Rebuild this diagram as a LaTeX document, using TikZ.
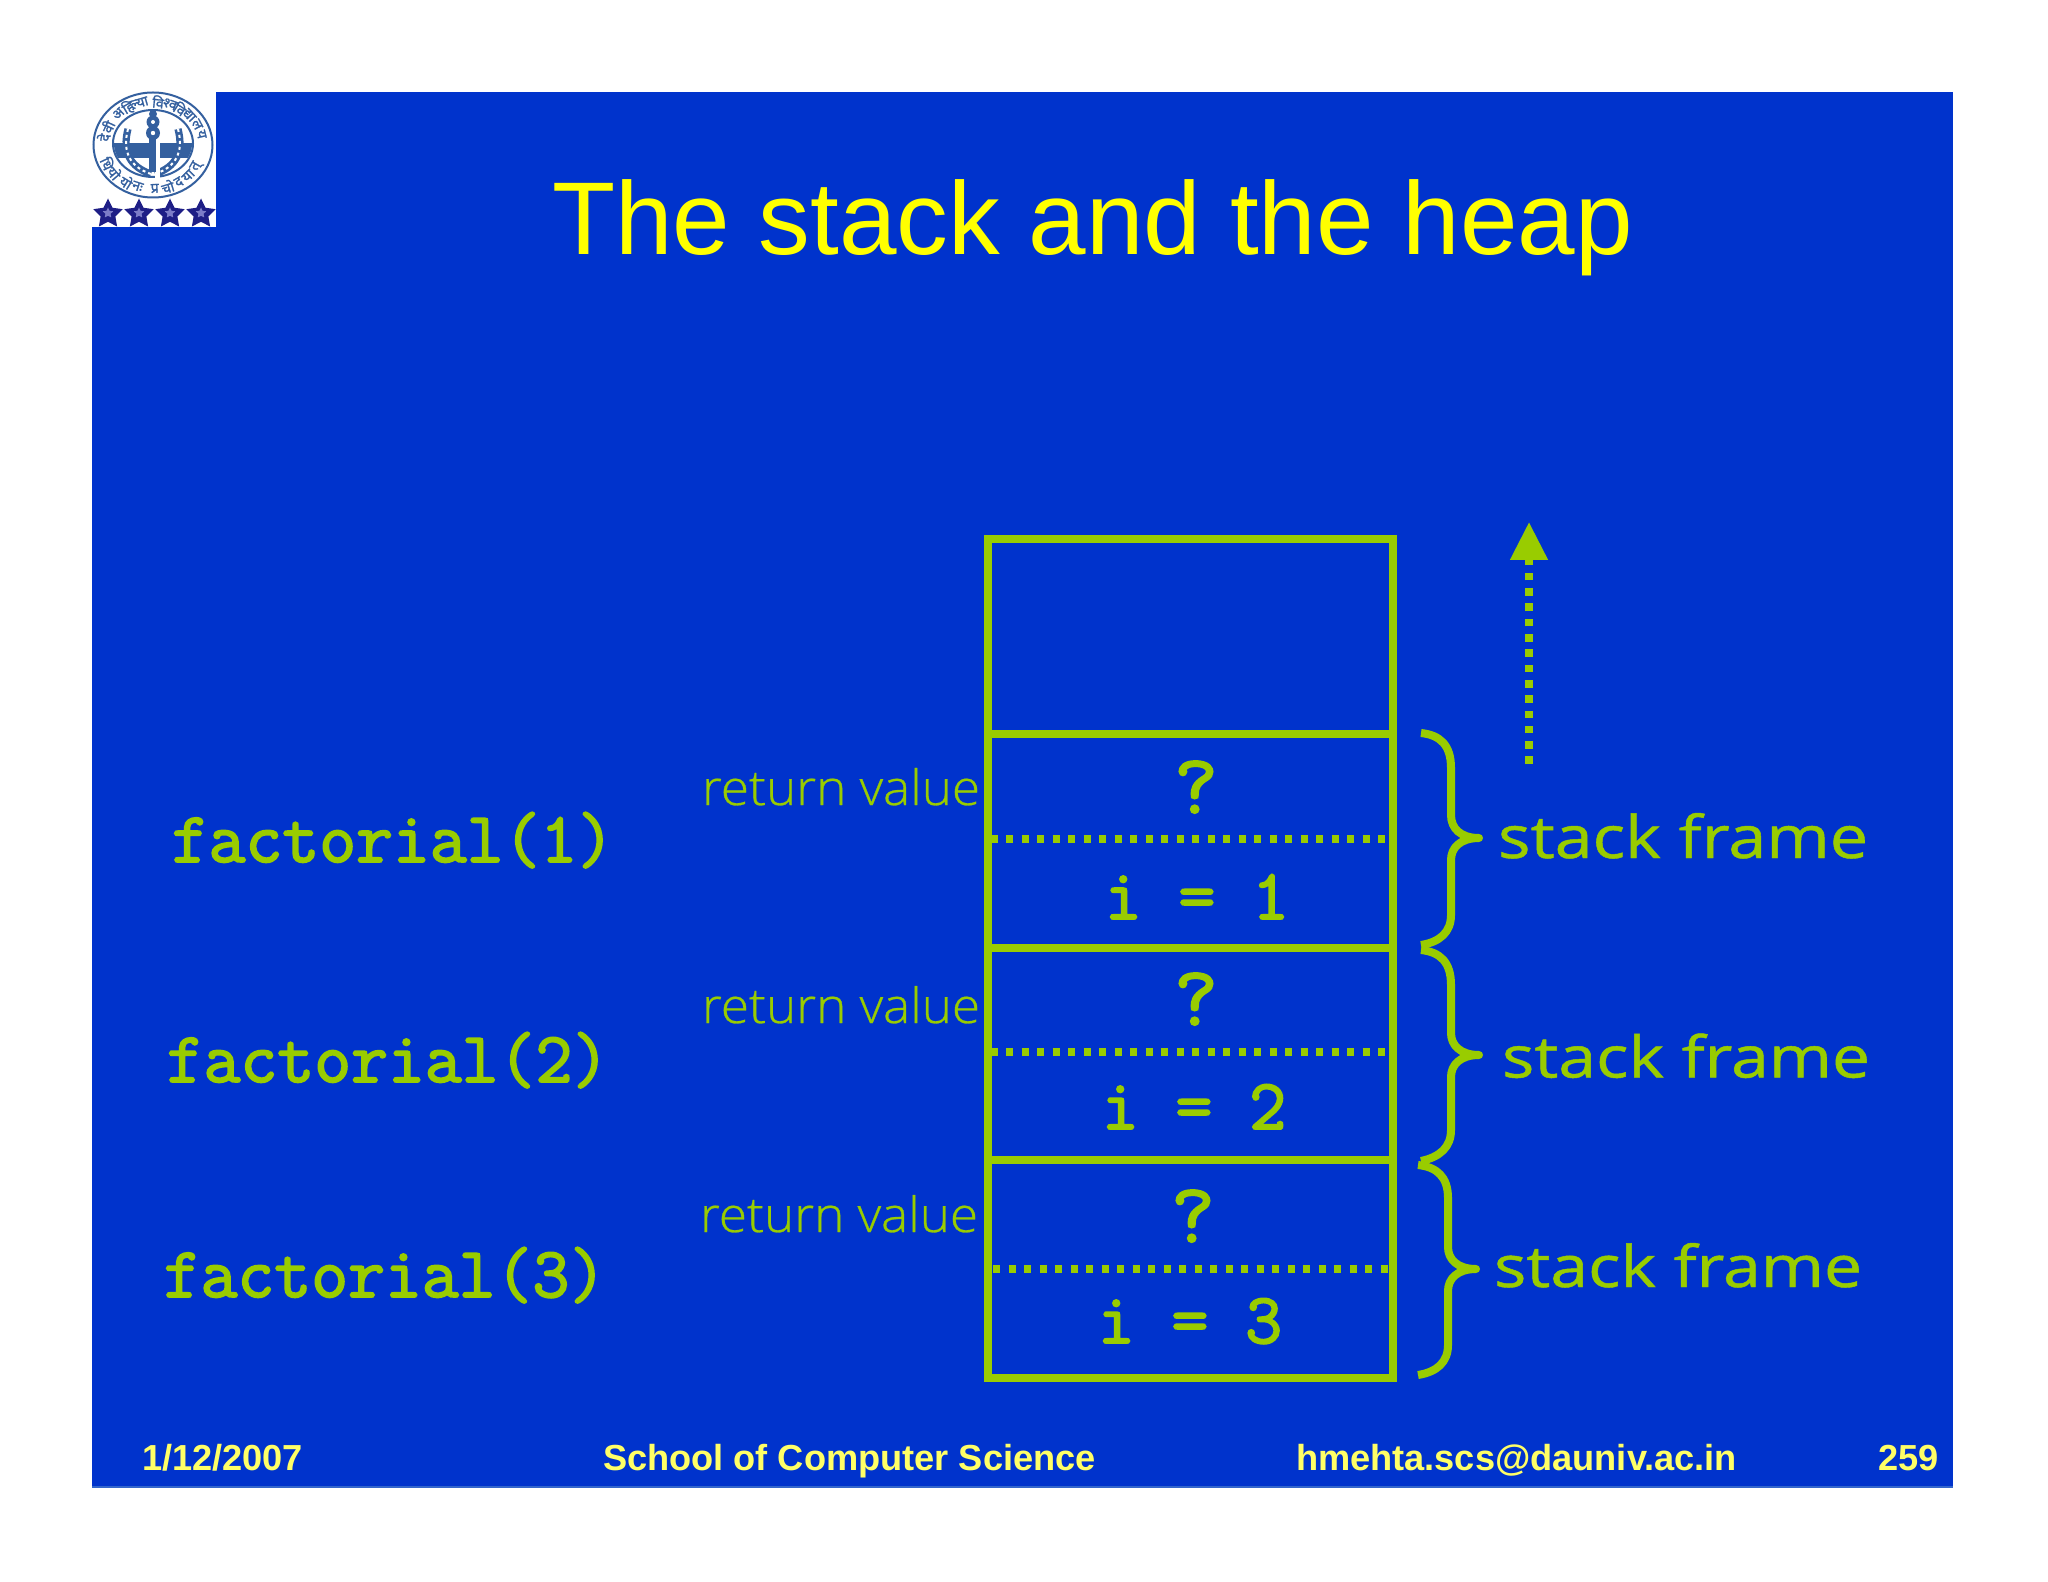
\documentclass[tikz,border=0pt]{standalone}
\usepackage{fontspec}
\usepackage{graphicx}
\usetikzlibrary{arrows.meta,shapes.geometric}
\setmainfont{Liberation Sans}
\newfontfamily\devf[Script=Devanagari,FakeBold=1.5]{Noto Sans}
\newfontfamily\framef[FakeBold=0.8]{Open Sans}
\newfontfamily\lightf[FakeBold=0.6]{Open Sans Light}
\newfontfamily\codef[FakeBold=2.5]{Latin Modern Mono}
\definecolor{slideblue}{HTML}{0033CC}
\definecolor{edgeblue}{HTML}{3366CC}
\definecolor{lime}{HTML}{99CC00}
\definecolor{titleyellow}{HTML}{FFFF00}
\definecolor{footyellow}{HTML}{FFFF66}
\definecolor{sealblue}{HTML}{34609F}
\definecolor{starnavy}{HTML}{1E1E86}
\definecolor{starlight}{HTML}{7C7CC8}
\newcommand{\fitbox}[3]{\resizebox{#1pt}{#2pt}{#3}}
\tikzset{
  txt/.style={inner sep=0pt,outer sep=0pt,anchor=base},
  txtw/.style={inner sep=0pt,outer sep=0pt,anchor=base west},
  titletext/.style={txtw,text=titleyellow,font=\fontsize{51.7pt}{60pt}\selectfont},
  foot/.style={txtw,text=footyellow,font=\fontsize{18.1pt}{22pt}\selectfont\bfseries},
  code/.style={txt,text=lime,font=\codef\fontsize{35.8pt}{40pt}\selectfont},
  mark q/.style={txt,text=lime,font=\codef\fontsize{42pt}{46pt}\selectfont},
  retval/.style={txtw,text=lime,font=\lightf},
  sframe/.style={txtw,text=lime,font=\framef},
  cell/.style={draw=lime,line width=4pt,minimum width=202.5pt,inner sep=0pt,outer sep=0pt},
  divider/.style={draw=lime,line width=3.9pt,dash pattern=on 3.6pt off 4.15pt},
  framebrace/.style={draw=lime,line width=4pt,line join=round},
  growth/.style={draw=lime,line width=3.9pt,dash pattern=on 3.8pt off 3.85pt,
    -{Triangle[length=19pt,width=18pt,fill=lime]}},
  seal/.style={draw=sealblue},
  starbig/.style={star,star points=5,star point ratio=2.0,fill=starnavy,inner sep=0pt,minimum size=15.5pt},
  starsmall/.style={star,star points=5,star point ratio=2.0,fill=starlight,inner sep=0pt,minimum size=5.5pt},
  sealtxt/.style={inner sep=0pt,text=sealblue,font=\devf\fontsize{7pt}{8pt}\selectfont},
}
\begin{document}
\begin{tikzpicture}[x=0.5pt,y=-0.5pt]
\useasboundingbox (0,0) rectangle (2048,1582);
\fill[white] (0,0) rectangle (2048,1582);
\fill[slideblue] (92,92) rectangle (1953,1487);
\fill[edgeblue] (92,1485.5) rectangle (1953,1487.5);
% logo
\fill[white] (92,92) rectangle (216,227);
\draw[seal,line width=1pt] (153,145) ellipse [x radius=59.5,y radius=52.5];
\draw[seal,line width=1pt] (153,143.5) ellipse [x radius=40,y radius=33.5];
\foreach \a/\t in {170/दे,155/वी,134/अ,120/हि,106/ल्या,84/वि,70/श्व,57/वि,43/द्या,28/ल,14/य}{
  \node[sealtxt,rotate=\a-90] at ({153+50*cos(\a)},{145-43.5*sin(\a)}) {\t};
}
\foreach \a/\t in {205/धि,220/यो,238/यो,252/नः,272/प्र,287/चो,301/द,315/या,330/त्}{
  \node[sealtxt,rotate=\a+90] at ({153+50*cos(\a)},{145-43.5*sin(\a)}) {\t};
}
\begin{scope}
\clip (153,143.5) ellipse [x radius=39,y radius=32.5];
\fill[sealblue] (113,143) rectangle (193,158);
\end{scope}
\draw[sealblue,line width=3.6pt] (128,129) .. controls (122,152) and (130,167) .. (151,174);
\draw[sealblue,line width=3.6pt] (178,129) .. controls (184,152) and (176,167) .. (155,174);
\draw[white,line width=1pt,dash pattern=on 1.5pt off 1.5pt] (128,129) .. controls (122,152) and (130,167) .. (151,174);
\draw[white,line width=1pt,dash pattern=on 1.5pt off 1.5pt] (178,129) .. controls (184,152) and (176,167) .. (155,174);
\fill[white] (155,140) rectangle (160,180);
\fill[sealblue] (153,114) circle [radius=4];
\fill[sealblue] (153,122) circle [radius=6.5];
\fill[sealblue] (153,133) circle [radius=7];
\fill[sealblue] (149,138) rectangle (156,172);
\fill[white] (153,122) circle [radius=2];
\fill[white] (153,133) circle [radius=2.2];
\foreach \x in {108,139,170,201}{
  \node[starbig] at (\x,214) {};
  \node[starsmall] at (\x,213) {};
}
% title
\node[titletext] (title) at (552,255) {The stack and the heap};
% stack cells
\node[cell,minimum height=97.5pt] (cellfree) at (1190.5,636.5) {};
\node[cell,minimum height=107pt] (cellone) at (1190.5,841) {};
\node[cell,minimum height=106pt] (celltwo) at (1190.5,1054) {};
\node[cell,minimum height=109pt] (cellthree) at (1190.5,1269) {};
% dividers
\coordinate (d1a) at (990.5,839); \coordinate (d1b) at (1388,839);
\coordinate (d2a) at (990.5,1052); \coordinate (d2b) at (1388,1052);
\coordinate (d3a) at (993,1269); \coordinate (d3b) at (1391,1269);
\draw[divider] (d1a) -- (d1b);
\draw[divider] (d2a) -- (d2b);
\draw[divider] (d3a) -- (d3b);
% cell contents
\node[mark q] (q1) at (1196,813) {?};
\node[mark q] (q2) at (1196,1025) {?};
\node[mark q] (q3) at (1193,1242) {?};
\node[code] (i1) at (1197,919) {i = 1};
\node[code] (i2) at (1194,1129) {i = 2};
\node[code] (i3) at (1190,1343) {i = 3};
% left labels
\node[code] (fa1) at (393,862) {factorial(1)};
\node[code] (fa2) at (388,1082) {factorial(2)};
\node[code] (fa3) at (385,1297) {factorial(3)};
\node[retval] (rv1) at (702,805) {\fitbox{139}{18.5}{return value}};
\node[retval] (rv2) at (702,1023) {\fitbox{139}{18.5}{return value}};
\node[retval] (rv3) at (700,1232) {\fitbox{139}{18.5}{return value}};
% braces
\draw[framebrace] (1421,733) .. controls (1440,735) and (1451,745) .. (1451,768) -- (1451,815)
  .. controls (1451,828) and (1460,838) .. (1479,838)
  .. controls (1460,838) and (1451,848) .. (1451,860) -- (1451,915)
  .. controls (1451,932) and (1440,942) .. (1421,945);
\draw[framebrace] (1421,950) .. controls (1440,952) and (1451,962) .. (1451,985) -- (1451,1033)
  .. controls (1451,1045) and (1460,1055) .. (1479,1055)
  .. controls (1460,1055) and (1451,1065) .. (1451,1077) -- (1451,1130)
  .. controls (1451,1147) and (1440,1157) .. (1421,1161);
\draw[framebrace] (1418,1165) .. controls (1437,1167) and (1448,1177) .. (1448,1198) -- (1448,1247)
  .. controls (1448,1259) and (1457,1269) .. (1476,1269)
  .. controls (1457,1269) and (1448,1279) .. (1448,1291) -- (1448,1345)
  .. controls (1448,1362) and (1437,1372) .. (1418,1375);
\node[sframe] (sf1) at (1498,858) {\fitbox{185}{22.5}{stack frame}};
\node[sframe] (sf2) at (1502,1077.5) {\fitbox{184}{22}{stack frame}};
\node[sframe] (sf3) at (1494,1287) {\fitbox{184}{22}{stack frame}};
% growth arrow
\coordinate (growstart) at (1529,764);
\coordinate (growend) at (1529,522);
\draw[growth] (growstart) -- (growend);
% footer
\node[foot] (fdate) at (142,1470) {1/12/2007};
\node[foot] (fschool) at (603,1470) {School of Computer Science};
\node[foot] (fmail) at (1296,1470) {hmehta.scs@dauniv.ac.in};
\node[foot] (fpage) at (1878,1470) {259};
\end{tikzpicture}
\end{document}
